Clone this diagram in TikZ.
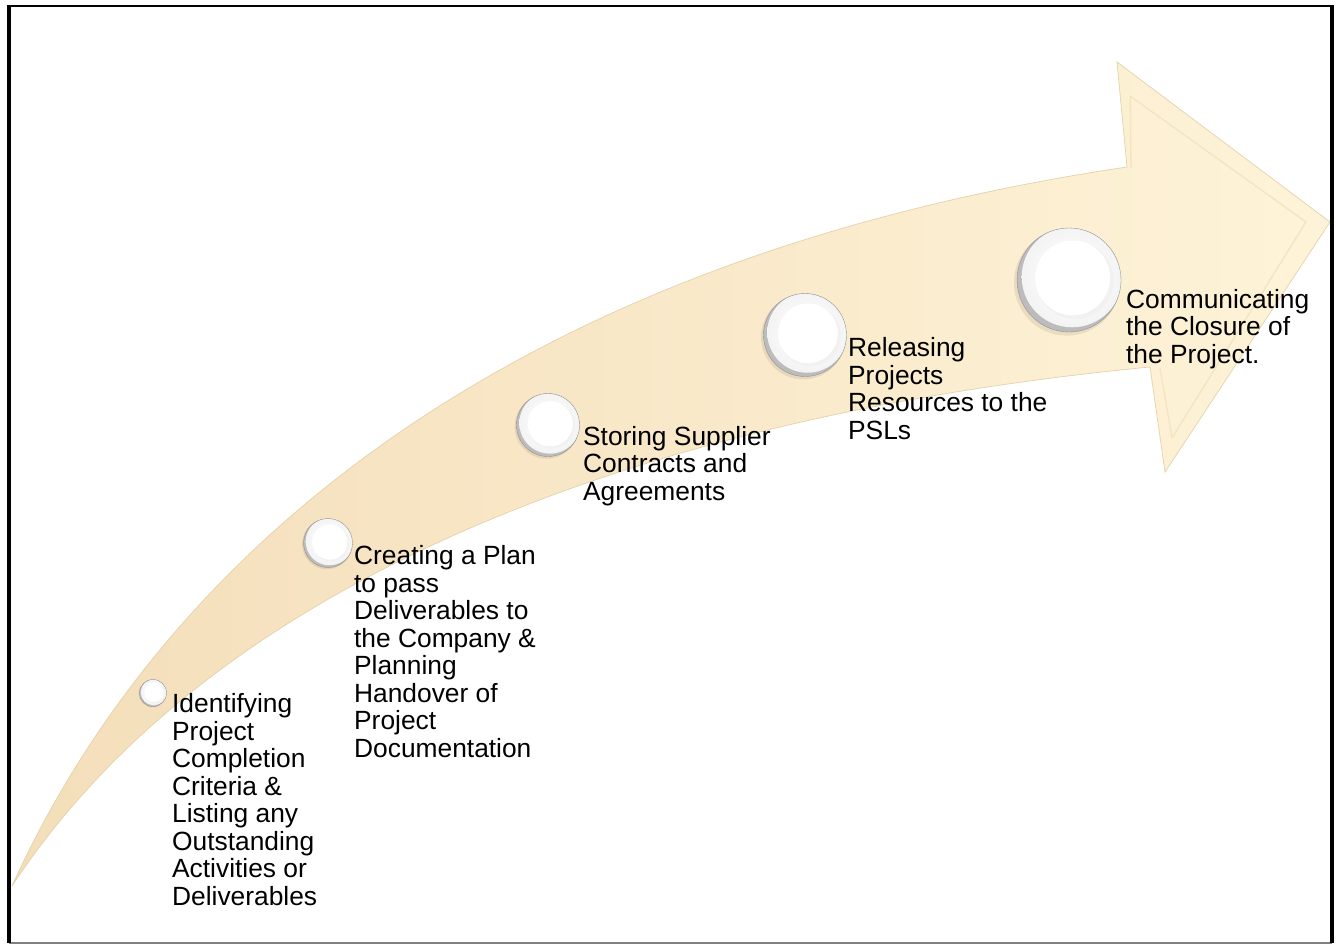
\documentclass[tikz,border=0pt]{standalone}
\usepackage{fontspec}
\setmainfont{Liberation Sans}
\usetikzlibrary{calc}
\definecolor{arrowL}{RGB}{244,222,186}
\definecolor{arrowM}{RGB}{253,238,207}
\definecolor{arrowR}{RGB}{254,243,216}
\definecolor{arrowEdge}{RGB}{228,210,170}
\definecolor{bevel}{RGB}{243,229,195}
\definecolor{rimgray}{RGB}{188,188,188}
\definecolor{wellgray}{RGB}{241,241,241}
\definecolor{plateline}{RGB}{140,140,140}

% a glossy white plate: #1 name, #2 centre, #3 radius (px)
\newcommand\plate[3]{%
  \node[circle, inner sep=0pt, minimum size=#3*0.1cm] (#1) at (#2) {};
  \fill[black, opacity=0.08] ($(#1.center)+(-0.04*#3,0.05*#3)$) circle[radius=#3*0.051cm];
  \begin{scope}
    \clip (#1.center) circle[radius=#3*0.05cm];
    \fill[rimgray] (#1.center) circle[radius=#3*0.05cm];
    \shade[inner color=white, outer color=white!91!gray]
      ($(#1.center)+(0.06*#3,-0.06*#3)$) circle[radius=#3*0.0485cm];
    \fill[wellgray] ($(#1.center)+(0.12*#3,0.01*#3)$) circle[radius=#3*0.037cm];
    \fill[white] ($(#1.center)+(0.07*#3,-0.04*#3)$) circle[radius=#3*0.036cm];
  \end{scope}
  \draw[plateline, line width=0.5pt] (#1.center) circle[radius=#3*0.05cm];
}

\begin{document}
\begin{tikzpicture}[x=0.05cm, y=-0.05cm,
  lbl/.style={anchor=base west, inner sep=0pt, align=left,
    font=\fontsize{37.5}{39.1}\selectfont}]
\useasboundingbox (0,0) rectangle (1338,945);
\fill[white] (0,0) rectangle (1338,945);

% curved arrow
\coordinate (tail) at (12,886);
\coordinate (neckU) at (1127,167);
\coordinate (barbU) at (1117,62);
\coordinate (tip) at (1330,222);
\coordinate (barbL) at (1165,472);
\coordinate (neckL) at (1150,367);
\shadedraw[left color=arrowL, middle color=arrowM, right color=arrowR,
  draw=arrowEdge, line width=1pt]
  (tail) .. controls (160,560) and (500,260) .. (neckU)
  -- (barbU) -- (tip) -- (barbL) -- (neckL)
  .. controls (600,420) and (200,600) .. (tail) -- cycle;

% bevel of the arrow head
\draw[bevel, line width=2pt, line join=round]
  (1131,168) -- (1130,96) -- (1306,222) -- (1172,438) -- (1160,368);

% plates
\plate{p1}{153,693}{13.5}
\plate{p2}{328,543}{24.5}
\plate{p3}{548,425}{31.5}
\plate{p4}{805,335}{41.5}
\plate{p5}{1069,280}{52}

% labels (anchored at the baseline of the last line)
\node[lbl] (t1) at (172,905) {Identifying\\Project\\Completion\\Criteria \&\\Listing any\\Outstanding\\Activities or\\Deliverables};
\node[lbl] (t2) at (354,757) {Creating a Plan\\to pass\\Deliverables to\\the Company \&\\Planning\\Handover of\\Project\\Documentation};
\node[lbl] (t3) at (583,500) {Storing Supplier\\Contracts and\\Agreements};
\node[lbl] (t4) at (848,439) {Releasing\\Projects\\Resources to the\\PSLs};
\node[lbl] (t5) at (1126,363) {Communicating\\the Closure of\\the Project.};

% frame
\draw[gray, line width=1.5pt] (9,943) -- (1332,943);
\draw[black, line width=5.5pt] (9,943) -- (9,6);
\draw[black, line width=5.5pt] (1332,6) -- (1332,943);
\draw[black, line width=3pt] (7,6) -- (1334,6);
\end{tikzpicture}
\end{document}
